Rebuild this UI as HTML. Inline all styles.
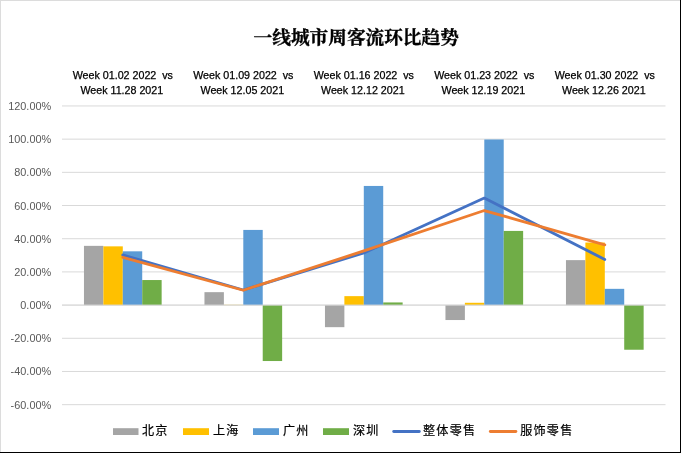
<!DOCTYPE html>
<html lang="zh-CN"><head><meta charset="utf-8"><title>一线城市周客流环比趋势</title>
<style>
html,body{margin:0;padding:0;background:#fff;}
body{width:681px;height:453px;overflow:hidden;position:relative;}
svg{position:absolute;left:0;top:0;display:block;}
.ax{font-family:"Liberation Sans",sans-serif;font-size:10.9px;fill:#595959;}
.cat{font-family:"Liberation Sans",sans-serif;font-size:10.7px;fill:#000;stroke:#000;stroke-width:0.25px;}
.ttl{font-family:"Liberation Serif","Noto Serif CJK SC",serif;font-weight:bold;font-size:18.67px;fill:#000;stroke:#000;stroke-width:0.35px;}
.lg{font-family:"Liberation Sans","Noto Sans CJK SC",sans-serif;font-size:12.1px;fill:#000;letter-spacing:1.25px;stroke:#000;stroke-width:0.2px;}
</style></head><body>
<svg width="681" height="453" viewBox="0 0 681 453">
<rect x="0" y="0" width="681" height="453" fill="#fff"/>
<rect x="0" y="0" width="681" height="1" fill="#dcdcdc"/>
<rect x="0" y="0" width="1" height="453" fill="#dcdcdc"/>
<rect x="680" y="0" width="1" height="453" fill="#000"/>
<rect x="0" y="452" width="681" height="1" fill="#000"/>
<line x1="62.0" x2="665.5" y1="105.96" y2="105.96" stroke="#D9D9D9" stroke-width="1"/>
<text class="ax" x="51.2" y="109.96" text-anchor="end">120.00%</text>
<line x1="62.0" x2="665.5" y1="139.15" y2="139.15" stroke="#D9D9D9" stroke-width="1"/>
<text class="ax" x="51.2" y="143.15" text-anchor="end">100.00%</text>
<line x1="62.0" x2="665.5" y1="172.34" y2="172.34" stroke="#D9D9D9" stroke-width="1"/>
<text class="ax" x="51.2" y="176.34" text-anchor="end">80.00%</text>
<line x1="62.0" x2="665.5" y1="205.53" y2="205.53" stroke="#D9D9D9" stroke-width="1"/>
<text class="ax" x="51.2" y="209.53" text-anchor="end">60.00%</text>
<line x1="62.0" x2="665.5" y1="238.72" y2="238.72" stroke="#D9D9D9" stroke-width="1"/>
<text class="ax" x="51.2" y="242.72" text-anchor="end">40.00%</text>
<line x1="62.0" x2="665.5" y1="271.91" y2="271.91" stroke="#D9D9D9" stroke-width="1"/>
<text class="ax" x="51.2" y="275.91" text-anchor="end">20.00%</text>
<line x1="62.0" x2="665.5" y1="305.10" y2="305.10" stroke="#D9D9D9" stroke-width="1"/>
<text class="ax" x="51.2" y="309.10" text-anchor="end">0.00%</text>
<line x1="62.0" x2="665.5" y1="338.29" y2="338.29" stroke="#D9D9D9" stroke-width="1"/>
<text class="ax" x="51.2" y="342.29" text-anchor="end">-20.00%</text>
<line x1="62.0" x2="665.5" y1="371.48" y2="371.48" stroke="#D9D9D9" stroke-width="1"/>
<text class="ax" x="51.2" y="375.48" text-anchor="end">-40.00%</text>
<line x1="62.0" x2="665.5" y1="404.67" y2="404.67" stroke="#D9D9D9" stroke-width="1"/>
<text class="ax" x="51.2" y="408.67" text-anchor="end">-60.00%</text>
<rect x="83.96" y="245.86" width="19.42" height="59.24" fill="#A5A5A5"/>
<rect x="103.38" y="246.35" width="19.42" height="58.75" fill="#FFC000"/>
<rect x="122.80" y="251.33" width="19.42" height="53.77" fill="#5B9BD5"/>
<rect x="142.22" y="280.04" width="19.42" height="25.06" fill="#70AD47"/>
<rect x="204.46" y="292.16" width="19.42" height="12.94" fill="#A5A5A5"/>
<rect x="223.88" y="304.85" width="19.42" height="0.25" fill="#FFC000"/>
<rect x="243.30" y="229.92" width="19.42" height="75.18" fill="#5B9BD5"/>
<rect x="262.72" y="305.10" width="19.42" height="55.93" fill="#70AD47"/>
<rect x="324.96" y="305.10" width="19.42" height="22.07" fill="#A5A5A5"/>
<rect x="344.38" y="296.14" width="19.42" height="8.96" fill="#FFC000"/>
<rect x="363.80" y="185.95" width="19.42" height="119.15" fill="#5B9BD5"/>
<rect x="383.22" y="302.44" width="19.42" height="2.66" fill="#70AD47"/>
<rect x="445.46" y="305.10" width="19.42" height="14.94" fill="#A5A5A5"/>
<rect x="464.88" y="302.78" width="19.42" height="2.32" fill="#FFC000"/>
<rect x="484.30" y="139.48" width="19.42" height="165.62" fill="#5B9BD5"/>
<rect x="503.72" y="230.92" width="19.42" height="74.18" fill="#70AD47"/>
<rect x="565.96" y="260.13" width="19.42" height="44.97" fill="#A5A5A5"/>
<rect x="585.38" y="242.54" width="19.42" height="62.56" fill="#FFC000"/>
<rect x="604.80" y="288.84" width="19.42" height="16.26" fill="#5B9BD5"/>
<rect x="624.22" y="305.10" width="19.42" height="44.64" fill="#70AD47"/>
<line x1="62.0" x2="665.5" y1="305.10" y2="305.10" stroke="#D9D9D9" stroke-width="1"/>
<polyline points="122.80,254.98 243.30,290.00 363.80,252.99 484.30,198.06 604.80,259.46" fill="none" stroke="#4472C4" stroke-width="2.85" stroke-linecap="round" stroke-linejoin="round"/>
<polyline points="122.80,257.31 243.30,290.25 363.80,250.92 484.30,210.51 604.80,244.86" fill="none" stroke="#ED7D31" stroke-width="2.85" stroke-linecap="round" stroke-linejoin="round"/>
<text class="cat" x="122.80" y="78.9" text-anchor="middle" xml:space="preserve">Week 01.02 2022  vs</text>
<text class="cat" x="121.80" y="93.8" text-anchor="middle">Week 11.28 2021</text>
<text class="cat" x="243.30" y="78.9" text-anchor="middle" xml:space="preserve">Week 01.09 2022  vs</text>
<text class="cat" x="242.30" y="93.8" text-anchor="middle">Week 12.05 2021</text>
<text class="cat" x="363.80" y="78.9" text-anchor="middle" xml:space="preserve">Week 01.16 2022  vs</text>
<text class="cat" x="362.80" y="93.8" text-anchor="middle">Week 12.12 2021</text>
<text class="cat" x="484.30" y="78.9" text-anchor="middle" xml:space="preserve">Week 01.23 2022  vs</text>
<text class="cat" x="483.30" y="93.8" text-anchor="middle">Week 12.19 2021</text>
<text class="cat" x="604.80" y="78.9" text-anchor="middle" xml:space="preserve">Week 01.30 2022  vs</text>
<text class="cat" x="603.80" y="93.8" text-anchor="middle">Week 12.26 2021</text>
<text class="ttl" x="253.6" y="43.5">一线城市周客流环比趋势</text>
<rect x="113" y="428.2" width="25.5" height="6.8" fill="#A5A5A5"/>
<text class="lg" transform="translate(142,435.0) scale(1,1.03)" x="0" y="0">北京</text>
<rect x="183" y="428.2" width="26" height="6.8" fill="#FFC000"/>
<text class="lg" transform="translate(213,435.0) scale(1,1.03)" x="0" y="0">上海</text>
<rect x="253" y="428.2" width="26" height="6.8" fill="#5B9BD5"/>
<text class="lg" transform="translate(283,435.0) scale(1,1.03)" x="0" y="0">广州</text>
<rect x="323" y="428.2" width="26" height="6.8" fill="#70AD47"/>
<text class="lg" transform="translate(353,435.0) scale(1,1.03)" x="0" y="0">深圳</text>
<line x1="393.7" x2="419.3" y1="431.5" y2="431.5" stroke="#4472C4" stroke-width="2.85" stroke-linecap="round"/>
<text class="lg" transform="translate(423,435.0) scale(1,1.03)" x="0" y="0">整体零售</text>
<line x1="490.3" x2="515.9" y1="431.5" y2="431.5" stroke="#ED7D31" stroke-width="2.85" stroke-linecap="round"/>
<text class="lg" transform="translate(520.2,435.0) scale(1,1.03)" x="0" y="0">服饰零售</text>
</svg></body></html>
